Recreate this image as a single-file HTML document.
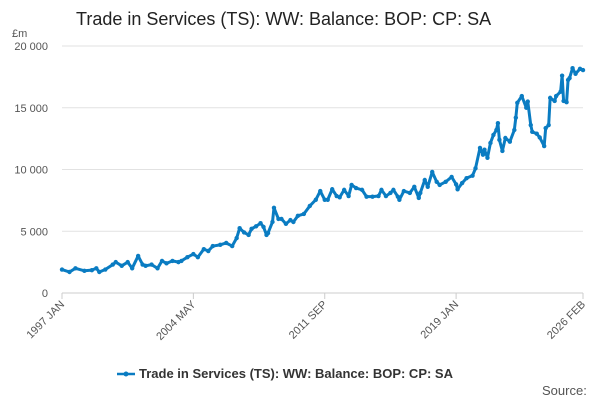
<!DOCTYPE html>
<html><head><meta charset="utf-8"><style>
body{margin:0;background:#fff;font-family:"Liberation Sans",sans-serif}
</style></head><body>
<svg width="600" height="400" id="c" font-family="Liberation Sans, sans-serif">
<text x="76" y="25" font-size="18" fill="#222">Trade in Services (TS): WW: Balance: BOP: CP: SA</text>
<text x="12" y="37" font-size="11" fill="#555">£m</text>
<g id="grid"></g><g id="xt"></g><g id="series"></g>
<g>
<line x1="117" y1="374" x2="135" y2="374" stroke="#0a7cc2" stroke-width="2.5"/>
<circle cx="126" cy="374" r="2.5" fill="#0a7cc2"/>
<text x="139" y="378" font-size="13" font-weight="bold" fill="#333">Trade in Services (TS): WW: Balance: BOP: CP: SA</text>
</g>
<text x="542" y="395" font-size="13" fill="#555">Source:</text>
</svg>
<script>
const months=[0,5,9,15,20,23,25,29,34,36,40,44,47,51,54,56,60,64,67,70,74,78,80,84,88,91,95,98,101,106,110,114,117,119,122,125,127,130,133,135,137,138,141,142,145,147,150,153,155,158,162,166,170,173,176,178,181,184,186,189,192,194,197,201,204,208,212,214,217,220,222,225,226,229,233,236,239,240,243,245,248,251,253,257,261,264,265,268,271,275,277,280,282,283,285,287,289,291,292,293,295,297,300,303,304,305,308,311,312,314,315,318,320,323,324,326,327,330,331,334,335,336,338,339,340,342,344,347,349];
const values=[1900,1700,2000,1800,1850,2000,1700,1900,2300,2500,2200,2500,2000,3000,2300,2200,2300,2000,2600,2400,2600,2500,2600,2900,3150,2900,3550,3400,3800,3900,4050,3800,4450,5250,4900,4700,5200,5400,5650,5350,4700,4850,5750,6900,6000,6000,5600,5900,5750,6250,6400,7050,7550,8250,7550,7550,8400,7850,7750,8350,7850,8750,8500,8350,7800,7800,7850,8350,7850,8100,8350,7800,7550,8250,8100,8600,7700,8100,9150,8600,9800,9000,8750,9000,9400,8800,8400,8900,9300,9500,10100,11750,11200,11600,10950,12150,12800,13200,13750,12400,11500,12550,12250,13200,14200,15400,15950,15000,15500,13600,13050,12900,12600,11900,13350,13600,15800,15550,15950,16300,17600,15550,15450,17250,17400,18200,17750,18150,18050];
const yTicks=[0,5000,10000,15000,20000];
const yLabels=["0","5 000","10 000","15 000","20 000"];
const xTickMonths=[0,88,176,264,349];
const xLabels=["1997 JAN","2004 MAY","2011 SEP","2019 JAN","2026 FEB"];
const X0=62,X1=583,Y0=293,Y1=46,NS="http://www.w3.org/2000/svg";
const xs=m=>X0+(X1-X0)*m/349, ys=v=>Y0-(Y0-Y1)*v/20000;
function mk(t,a,p){const e=document.createElementNS(NS,t);for(const k in a)e.setAttribute(k,a[k]);p.appendChild(e);return e;}
const g=document.getElementById('grid');
yTicks.forEach((v,i)=>{
 const l=mk('line',{x1:X0,x2:X1,y1:ys(v),y2:ys(v),stroke:v?'#e2e2e2':'#ccc'},g);
 
 
 const t=mk('text',{x:48,y:ys(v)+4,'font-size':11,fill:'#555','text-anchor':'end'},g);t.textContent=yLabels[i];
 
 
});
const xt=document.getElementById('xt');
xTickMonths.forEach((m,i)=>{
 const x=xs(m);
 mk('line',{x1:x,x2:x,y1:Y0,y2:Y0+6,stroke:'#ccc'},xt);
 const t=mk('text',{x:x+3,y:Y0+12,'font-size':11,fill:'#555','text-anchor':'end',transform:`rotate(-45 ${x+3} ${Y0+12})`},xt);t.textContent=xLabels[i];
 
 
});
const s=document.getElementById('series');
const p=mk('polyline',{points:months.map((m,i)=>xs(m)+','+ys(values[i])).join(' '),fill:'none',stroke:'#0a7cc2','stroke-width':3,'stroke-linejoin':'round'},s);


months.forEach((m,i)=>{const c=mk('circle',{cx:xs(m),cy:ys(values[i]),r:2.2,fill:'#0a7cc2'},s);
 
 });
</script>
</body></html>
